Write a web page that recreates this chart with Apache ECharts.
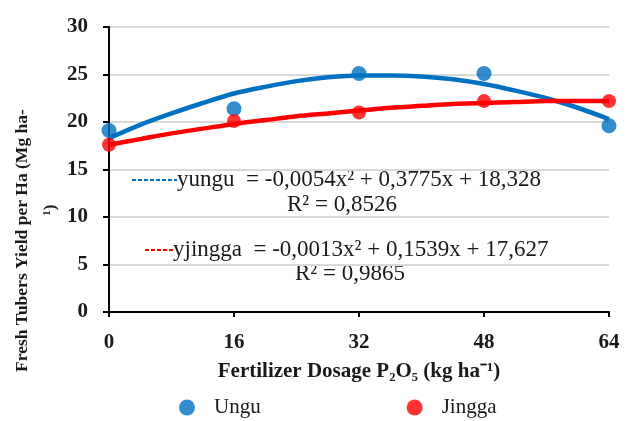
<!DOCTYPE html>
<html>
<head>
<meta charset="utf-8">
<script src="https://cdn.jsdelivr.net/npm/echarts@6/dist/echarts.min.js"></script>
<style>
  html, body { margin: 0; padding: 0; background: #fff; }
  #chart { width: 627px; height: 421px; }
</style>
</head>
<body>
<div id="chart"></div>
<script>
// observed yields
const dosage = [0, 16, 32, 48, 64];
const ungu = [19.1, 21.4, 25.1, 25.1, 19.6];
const jingga = [17.6, 20.1, 21.0, 22.2, 22.2];
// trend curves
const trendX = [0, 4, 8, 12, 16, 20, 24, 28, 32, 36, 40, 44, 48, 52, 56, 60, 64];
const unguTrend = [18.3, 19.7, 20.9, 22.0, 23.0, 23.7, 24.3, 24.7, 24.9, 24.9, 24.8, 24.5, 24.0, 23.3, 22.5, 21.5, 20.3];
const jinggaTrend = [17.6, 18.2, 18.8, 19.3, 19.8, 20.2, 20.6, 20.9, 21.2, 21.5, 21.7, 21.9, 22.0, 22.1, 22.2, 22.2, 22.2];
const yTicks = [0, 5, 10, 15, 20, 25, 30];

const BLUE = '#0070C0';
const RED = '#FF0000';
const SERIF = 'Liberation Serif';
const INK = '#1a1a1a';

const pairs = (xs, ys) => xs.map((x, i) => [x, ys[i]]);

const eqStyle = (text, align) => ({
  text: text,
  fontFamily: SERIF,
  fontSize: 23,
  fill: INK,
  align: align,
  verticalAlign: 'middle'
});

const titleStyle = (text, align) => ({
  text: text,
  fontFamily: SERIF,
  fontWeight: 'bold',
  fontSize: 17.5,
  fill: INK,
  align: align,
  verticalAlign: 'middle'
});

const chart = echarts.init(document.getElementById('chart'));

const option = {
  backgroundColor: '#fff',
  animation: false,
  grid: { left: 109, right: 18, top: 27, bottom: 109 },
  xAxis: {
    type: 'value',
    min: 0,
    max: 64,
    interval: 16,
    name: 'Fertilizer Dosage P₂O₅ (kg ha⁻¹)',
    nameLocation: 'middle',
    nameGap: 49,
    nameTextStyle: { fontFamily: SERIF, fontWeight: 'bold', fontSize: 21, color: INK },
    axisLine: { lineStyle: { color: '#000', width: 2 } },
    axisTick: { show: true, length: 5, lineStyle: { color: '#000', width: 2 } },
    axisLabel: { fontFamily: SERIF, fontWeight: 'bold', fontSize: 21, color: INK, margin: 20 },
    splitLine: { show: false }
  },
  yAxis: {
    type: 'value',
    min: yTicks[0],
    max: yTicks[yTicks.length - 1],
    interval: 5,
    axisLine: { show: true, lineStyle: { color: '#000', width: 2 } },
    axisTick: { show: true, length: 6, lineStyle: { color: '#000', width: 2 } },
    axisLabel: { fontFamily: SERIF, fontWeight: 'bold', fontSize: 21, color: INK, margin: 21 },
    splitLine: { lineStyle: { color: '#d9d9d9', width: 2 } }
  },
  legend: {
    data: ['Ungu', 'Jingga'],
    bottom: -2,
    left: 174,
    itemGap: 146,
    icon: 'circle',
    itemWidth: 16,
    itemHeight: 16,
    textStyle: { fontFamily: SERIF, fontSize: 21, color: INK, padding: [0, 0, 0, 14] }
  },
  series: [
    {
      name: 'UnguTrend',
      type: 'line',
      data: pairs(trendX, unguTrend),
      smooth: 0.3,
      showSymbol: false,
      lineStyle: { color: BLUE, width: 4.5 },
      z: 2
    },
    {
      name: 'JinggaTrend',
      type: 'line',
      data: pairs(trendX, jinggaTrend),
      smooth: 0.3,
      showSymbol: false,
      lineStyle: { color: RED, width: 4.5 },
      z: 2
    },
    {
      name: 'Ungu',
      type: 'scatter',
      data: pairs(dosage, ungu),
      symbolSize: 15,
      itemStyle: { color: BLUE },
      z: 3
    },
    {
      name: 'Jingga',
      type: 'scatter',
      data: pairs(dosage, jingga),
      symbolSize: 14,
      itemStyle: { color: RED },
      z: 3
    }
  ],
  graphic: [
    { type: 'text', x: 22, y: 372, rotation: Math.PI / 2, style: titleStyle('Fresh Tubers Yield per Ha (Mg ha-', 'left') },
    { type: 'text', x: 50, y: 210, rotation: Math.PI / 2, style: titleStyle('¹)', 'center') },
    {
      type: 'line',
      shape: { x1: 132, y1: 180, x2: 177, y2: 180 },
      style: { stroke: BLUE, lineWidth: 2, lineDash: [4, 2] }
    },
    { type: 'text', x: 177, y: 180, style: eqStyle('yungu  = -0,0054x² + 0,3775x + 18,328', 'left') },
    { type: 'text', x: 342, y: 205, style: eqStyle('R² = 0,8526', 'center') },
    {
      type: 'line',
      shape: { x1: 145, y1: 250, x2: 173, y2: 250 },
      style: { stroke: RED, lineWidth: 2, lineDash: [4, 2] }
    },
    { type: 'text', x: 173, y: 250, style: eqStyle('yjingga  = -0,0013x² + 0,1539x + 17,627', 'left') },
    { type: 'text', x: 350, y: 274, style: eqStyle('R² = 0,9865', 'center') }
  ]
};

chart.setOption(option);
</script>
</body>
</html>
